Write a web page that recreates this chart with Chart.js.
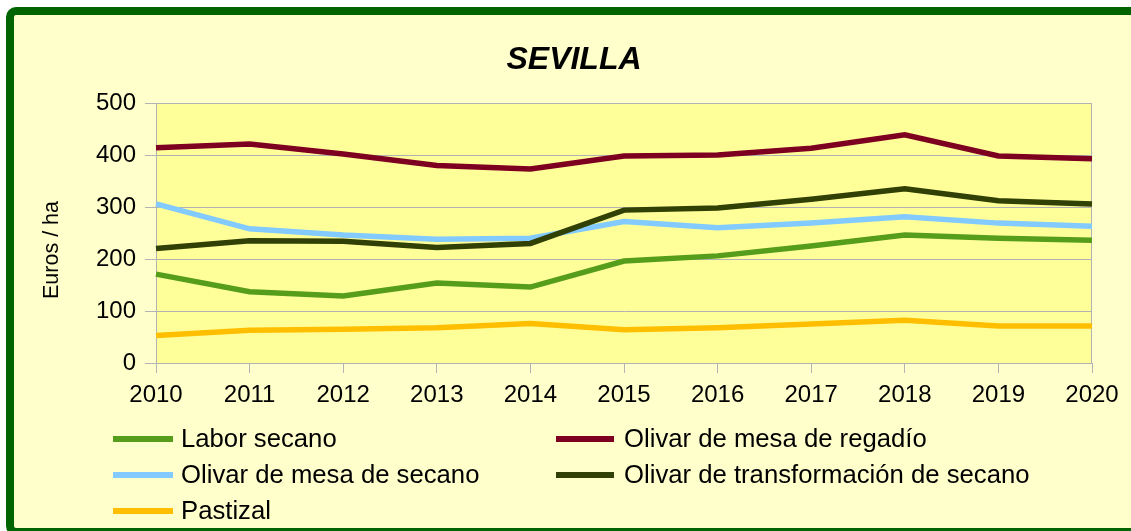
<!DOCTYPE html>
<html>
<head>
    <title>Sevilla</title>
    <script src="https://cdn.jsdelivr.net/npm/chart.js"></script>
    <style>
        body { margin: 0; background: #fff; overflow: hidden; }
        #frame {
            position: absolute; left: 6px; top: 7px; width: 1140px; height: 513px;
            border: 8px solid #006400; border-radius: 10px; background: #ffffcc;
        }
        #myChart { position: absolute; left: 0; top: 0; }
    </style>
</head>
<body>
    <div id="frame"></div>
    <canvas id="myChart" width="1131" height="531"></canvas>
    <script>
        const years = ['2010', '2011', '2012', '2013', '2014', '2015', '2016', '2017', '2018', '2019', '2020'];
        const laborSecano = [171, 137, 129, 154, 146, 196, 206, 225, 246, 240, 236];
        const olivarMesaRegadio = [414, 421, 402, 380, 373, 398, 400, 413, 439, 398, 393];
        const olivarMesaSecano = [306, 258, 246, 238, 240, 272, 260, 269, 281, 269, 263];
        const olivarTransformacion = [220, 235, 234, 222, 230, 294, 298, 315, 335, 312, 306];
        const pastizal = [53, 63, 65, 68, 76, 64, 68, 75, 82, 71, 71];
        const yTicks = [0, 100, 200, 300, 400, 500];

        const FONT = '"Liberation Sans", Arial, sans-serif';

        const series = [
            { label: 'Labor secano', data: laborSecano, color: '#579d1c', order: 0 },
            { label: 'Olivar de mesa de regadío', data: olivarMesaRegadio, color: '#7e0021', order: 1 },
            { label: 'Olivar de mesa de secano', data: olivarMesaSecano, color: '#83caff', order: 3 },
            { label: 'Olivar de transformación de secano', data: olivarTransformacion, color: '#314004', order: 2 },
            { label: 'Pastizal', data: pastizal, color: '#ffbf00', order: 4 }
        ];

        // plot background + frame, title, axis title and two-column legend
        const decorations = {
            id: 'decorations',
            beforeDraw(chart) {
                const { ctx, chartArea: a } = chart;
                ctx.save();
                ctx.fillStyle = '#ffff99';
                ctx.fillRect(a.left, a.top, a.right - a.left, a.bottom - a.top);
                ctx.restore();
            },
            beforeDatasetsDraw(chart) {
                const { ctx, chartArea: a } = chart;
                ctx.save();
                ctx.strokeStyle = '#b3b3b3';
                ctx.lineWidth = 1;
                ctx.strokeRect(a.left + 0.5, a.top + 0.5, a.right - a.left - 1, a.bottom - a.top);
                ctx.restore();
            },
            afterDraw(chart) {
                const ctx = chart.ctx;
                ctx.save();
                ctx.fillStyle = '#000';
                ctx.textAlign = 'center';
                ctx.textBaseline = 'middle';
                ctx.font = 'italic bold 32px ' + FONT;
                ctx.fillText('SEVILLA', 574, 60);

                ctx.translate(52, 250);
                ctx.rotate(-Math.PI / 2);
                ctx.font = '21.5px ' + FONT;
                ctx.fillText('Euros / ha', 0, 0);
                ctx.restore();

                const cols = [{ x0: 113, x1: 173, tx: 181 }, { x0: 556, x1: 614, tx: 624 }];
                const rows = [439, 475, 511];
                ctx.save();
                ctx.font = '25.7px ' + FONT;
                ctx.textBaseline = 'middle';
                ctx.textAlign = 'left';
                chart.data.datasets.forEach((ds, i) => {
                    const c = cols[i % 2], y = rows[Math.floor(i / 2)];
                    ctx.strokeStyle = ds.borderColor;
                    ctx.lineWidth = 6;
                    ctx.beginPath();
                    ctx.moveTo(c.x0, y);
                    ctx.lineTo(c.x1, y);
                    ctx.stroke();
                    ctx.fillStyle = '#000';
                    ctx.fillText(ds.label, c.tx, y + 1);
                });
                ctx.restore();
            }
        };

        new Chart(document.getElementById('myChart').getContext('2d'), {
            type: 'line',
            data: {
                labels: years,
                datasets: series.map(s => ({
                    label: s.label,
                    data: s.data,
                    borderColor: s.color,
                    backgroundColor: s.color,
                    borderWidth: 5.5,
                    pointRadius: 0,
                    tension: 0,
                    order: s.order
                }))
            },
            options: {
                responsive: false,
                animation: false,
                layout: { padding: { top: 103, right: 39, left: 0, bottom: 0 } },
                plugins: {
                    legend: { display: false },
                    title: { display: false },
                    tooltip: { enabled: false }
                },
                scales: {
                    x: {
                        offset: false,
                        afterFit(scale) { scale.height = 168; },
                        grid: { drawOnChartArea: false, drawTicks: true, tickLength: 10, color: '#b3b3b3' },
                        border: { color: '#b3b3b3' },
                        ticks: { color: '#000', padding: 8, maxRotation: 0, font: { family: FONT, size: 24 } }
                    },
                    y: {
                        min: 0,
                        max: 500,
                        afterFit(scale) { scale.width = 156; },
                        afterBuildTicks(scale) { scale.ticks = yTicks.map(v => ({ value: v })); },
                        grid: { color: '#b3b3b3', tickLength: 11 },
                        border: { color: '#b3b3b3' },
                        ticks: { color: '#000', padding: 9, font: { family: FONT, size: 24 } }
                    }
                }
            },
            plugins: [decorations]
        });
    </script>
</body>
</html>
